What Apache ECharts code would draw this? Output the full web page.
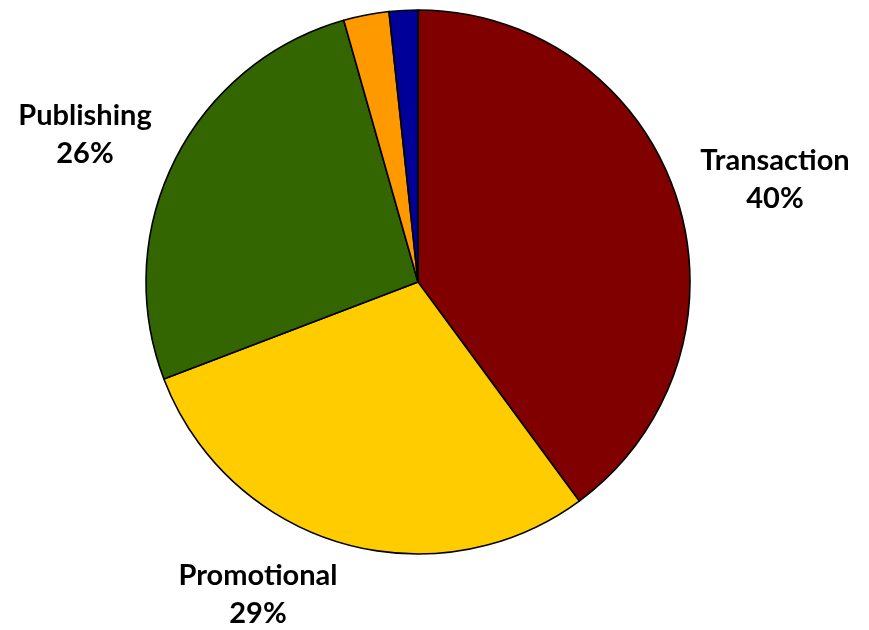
<!DOCTYPE html>
<html>
<head>
<meta charset="utf-8">
<script src="https://cdn.jsdelivr.net/npm/echarts@6/dist/echarts.min.js"></script>
<style>html,body{margin:0;padding:0;background:#fff;}#chart{width:869px;height:630px;}</style>
</head>
<body>
<div id="chart"></div>
<script>
const categories = ['Transaction', 'Promotional', 'Publishing', 'Other', 'Misc'];
const values = [39.9, 29.3, 26.4, 2.7, 1.7];
const colors = ['#800000', '#FFCC00', '#336600', '#FF9900', '#000099'];
const showLabel = [true, true, true, false, false];
const labelPos = [[775, 180], [258, 595], [85, 135], [0, 0], [0, 0]];

const chart = echarts.init(document.getElementById('chart'), null, {renderer: 'canvas'});
chart.setOption({
  animation: false,
  series: [{
    type: 'pie',
    center: [418, 282],
    radius: [0, 272],
    startAngle: 90,
    clockwise: true,
    percentPrecision: 0,
    avoidLabelOverlap: false,
    itemStyle: {borderColor: '#000', borderWidth: 1.6},
    label: {
      show: true,
      position: 'outside',
      formatter: '{b}\n{d}%',
      fontFamily: 'Lato',
      fontWeight: 'bold',
      fontSize: 29,
      lineHeight: 38,
      color: '#000',
      align: 'center'
    },
    labelLine: {show: false},
    labelLayout: function (p) {
      const pos = labelPos[p.dataIndex];
      return {x: pos[0], y: pos[1], align: 'center', verticalAlign: 'middle'};
    },
    emphasis: {disabled: true},
    data: categories.map((c, i) => ({
      name: c,
      value: values[i],
      itemStyle: {color: colors[i]},
      label: {show: showLabel[i]}
    }))
  }]
});
</script>
</body>
</html>
